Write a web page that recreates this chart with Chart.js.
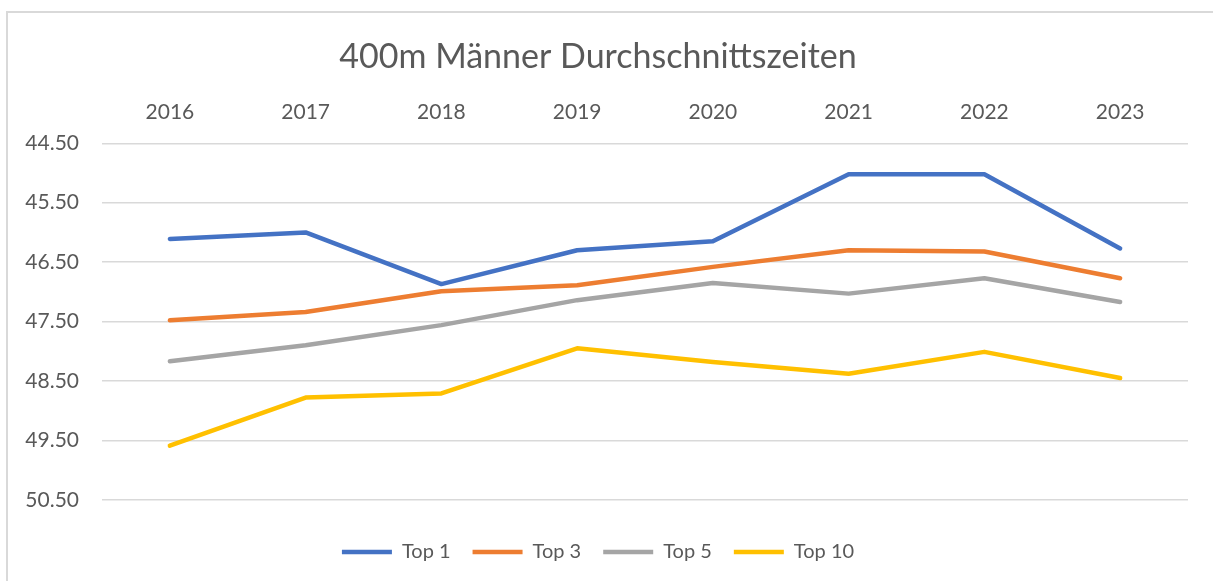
<!DOCTYPE html>
<html>
<head>
<meta charset="utf-8">
<script src="https://cdn.jsdelivr.net/npm/chart.js@4/dist/chart.umd.min.js"></script>
<style>
  html, body { margin:0; padding:0; background:#fff; }
  body { width:1213px; height:581px; position:relative; overflow:hidden; }
  #frame { position:absolute; left:6px; top:11px; width:1300px; height:700px;
           border-left:2px solid #D9D9D9; border-top:2px solid #D9D9D9; }
  #wrap { position:absolute; left:0; top:0; width:1213px; height:581px; }
</style>
</head>
<body>
<div id="frame"></div>
<div id="wrap"><canvas id="c"></canvas></div>
<script>
/* ===== DATA ===== */
const years  = ['2016','2017','2018','2019','2020','2021','2022','2023'];
const top1   = [46.11, 46.00, 46.87, 46.30, 46.15, 45.02, 45.02, 46.27];
const top3   = [47.48, 47.34, 46.99, 46.89, 46.58, 46.30, 46.32, 46.77];
const top5   = [48.17, 47.90, 47.56, 47.14, 46.85, 47.03, 46.77, 47.17];
const top10  = [49.59, 48.78, 48.71, 47.95, 48.18, 48.38, 48.01, 48.45];
const yTicks = [44.5, 45.5, 46.5, 47.5, 48.5, 49.5, 50.5];

const FONT = "Lato, 'Open Sans', sans-serif";
const TXT  = '#595959';

function series(label, data, color) {
  return { label, data, borderColor:color, backgroundColor:color,
    borderWidth:4.5, tension:0, pointRadius:0, pointHoverRadius:0,
    borderCapStyle:'round', borderJoinStyle:'round', fill:false };
}

new Chart(document.getElementById('c'), {
  type: 'line',
  data: {
    labels: years,
    datasets: [
      series('Top 1',  top1,  '#4472C4'),
      series('Top 3',  top3,  '#ED7D31'),
      series('Top 5',  top5,  '#A5A5A5'),
      series('Top 10', top10, '#FFC000'),
    ]
  },
  options: {
    responsive:true, maintainAspectRatio:false, animation:false,
    layout:{ padding:{ left:8, right:25, top:0, bottom:9 } },
    plugins:{
      title:{ display:true, text:'400m Männer Durchschnittszeiten', color:TXT,
        font:{ family:FONT, size:34, weight:'normal' }, padding:{ top:37, bottom:8 } },
      legend:{ position:'bottom',
        title:{ display:true, text:' ', font:{ size:1 }, padding:{ top:0, bottom:19 } },
        labels:{ font:{ family:FONT, size:20 }, color:TXT,
          usePointStyle:true, pointStyle:'line', pointStyleWidth:50, padding:22 } },
      tooltip:{ enabled:false }
    },
    scales:{
      x:{ position:'top', offset:true,
        grid:{ display:false, drawTicks:false }, border:{ display:false },
        ticks:{ font:{ family:FONT, size:21 }, color:TXT, padding:18, maxRotation:0 },
        afterFit: s => { s.height = 57.5; } },
      y:{ reverse:true, min:44.5, max:50.5,
        afterBuildTicks: a => { a.ticks = yTicks.map(v => ({ value:v })); },
        grid:{ color:'#D9D9D9', lineWidth:1.5, drawTicks:false }, border:{ display:false },
        ticks:{ font:{ family:FONT, size:21 }, color:TXT, padding:23,
          callback: v => Number(v).toFixed(2) },
        afterFit: s => { s.width = 94; } }
    }
  }
});
</script>
</body>
</html>
